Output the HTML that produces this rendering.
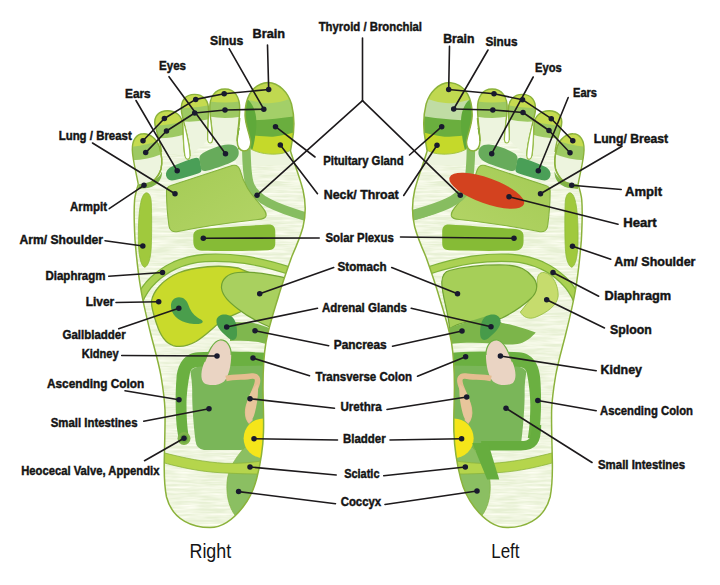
<!DOCTYPE html>
<html lang="en"><head><meta charset="utf-8"><title>Foot Reflexology Chart</title>
<style>
html,body{margin:0;padding:0;background:#fff;}
body{width:720px;height:585px;overflow:hidden;}
svg{display:block;}
.lb{font-family:"Liberation Sans",Arial,sans-serif;font-weight:bold;font-size:13.2px;fill:#141414;stroke:#141414;stroke-width:0.45px;}
.big{font-family:"Liberation Sans",Arial,sans-serif;font-weight:normal;font-size:20px;fill:#141414;}
.ln{stroke:#1d1a1c;stroke-width:1.6;fill:none;stroke-linecap:round;stroke-linejoin:round;}
.dt{fill:#191a2e;}
</style></head><body>
<svg width="720" height="585" viewBox="0 0 720 585">
<rect width="720" height="585" fill="#fff"/>

<defs>
<path id="bodypath" d="M268,82.5 C279,83 288,92 291.5,104 C294.5,116 294.5,130 292,142 L290.5,151 C293,160 299,175 303,190 C306,203 306,215 303,227 C300,238 296,247 292,256 C287,270 282,284 278,298 C274,311 269,326 266,342 C263.5,357 263,372 263,387 C263,402 264,418 263.5,432 C263,448 260.5,464 256.7,478.6 C254,489 250,498 243,507 C236,516 224,527.6 210,527.6 C200,527.6 191,525 184.7,521.4 C177,517 169.5,508.5 166.5,497 C164.5,487 164,472 164.3,459 C164.6,443 165.3,426 165,410 C164.5,398 163,388 161,376 C158.5,362 154,347 151,335 C147.5,321 143.5,305 141,290 C138.5,276 136.5,258 135,240 C134.2,225 133.8,210 134.6,200 C135.2,194 136.8,189 138.3,184.5 L138.3,170 L150,158 L175,142 L200,132 L239.5,128 C239.4,132 237.2,136 237.2,141 C237.2,147 240,151 244,151 C248.5,151 251,147 250.8,142 C249.7,134 245.6,126 245.1,116 C244.7,101 250,84 268,82.5Z"/>
<clipPath id="bodyclip"><use href="#bodypath"/></clipPath>
<g id="bodyoutline"><path fill="none" stroke="#8bb23b" stroke-width="1.5" d="M239.7,118 C239.4,126 237.2,134 237.2,141 C237.2,147 240,151 244,151 C248.5,151 251,147 250.8,142 C249.7,134 245.6,126 245.1,116 C244.7,101 250,84 268,82.5 C279,83 288,92 291.5,104 C294.5,116 294.5,130 292,142 L290.5,151 C293,160 299,175 303,190 C306,203 306,215 303,227 C300,238 296,247 292,256 C287,270 282,284 278,298 C274,311 269,326 266,342 C263.5,357 263,372 263,387 C263,402 264,418 263.5,432 C263,448 260.5,464 256.7,478.6 C254,489 250,498 243,507 C236,516 224,527.6 210,527.6 C200,527.6 191,525 184.7,521.4 C177,517 169.5,508.5 166.5,497 C164.5,487 164,472 164.3,459 C164.6,443 165.3,426 165,410 C164.5,398 163,388 161,376 C158.5,362 154,347 151,335 C147.5,321 143.5,305 141,290 C138.5,276 136.5,258 135,240 C134.2,225 133.8,210 134.6,200 C135.2,194 136.8,189 138.3,184.5"/></g>
<linearGradient id="lungg" x1="0" y1="0" x2="1" y2="1"><stop offset="0" stop-color="#a4cb55"/><stop offset="1" stop-color="#b3d466"/></linearGradient>
<filter id="tex" x="0" y="0" width="100%" height="100%" color-interpolation-filters="sRGB">
<feTurbulence type="fractalNoise" baseFrequency="0.035 0.45" numOctaves="3" seed="7" result="n"/>
<feColorMatrix in="n" type="matrix" values="0 0 0 0 1  0 0 0 0 1  0 0 0 0 0.96  0 0 0 1.7 -0.5" result="w"/>
<feComposite in="w" in2="SourceGraphic" operator="atop"/>
</filter>
</defs>

<g id="rightfoot">
<g clip-path="url(#bodyclip)"><rect x="120" y="70" width="200" height="470" fill="#e7f0d4" filter="url(#tex)"/>
</g>
<clipPath id="tc0"><path d="M212.5,140 C212.5,130 210.5,120 209.8,110 C209,97 215,89 225,89 C234.5,89 240.3,97 239.7,110 C239.5,120 237.7,130 237.2,141Z"/></clipPath>
<path d="M212.5,140 C212.5,130 210.5,120 209.8,110 C209,97 215,89 225,89 C234.5,89 240.3,97 239.7,110 C239.5,120 237.7,130 237.2,141Z" fill="#edf4de"/>
<g clip-path="url(#tc0)"><g transform="translate(225,89) rotate(0)">
<path d="M-19.0,-6 H19.0 V27.0 Q0,31.0 -19.0,27.0Z" fill="#9dc962"/>
<path d="M-19.0,-6 H19.0 V12.0 Q0,15.0 -19.0,12.0Z" fill="#c5db50"/>
</g></g>
<path d="M212.5,140 C212.5,130 210.5,120 209.8,110 C209,97 215,89 225,89 C234.5,89 240.3,97 239.7,110 C239.5,120 237.7,130 237.2,141" fill="none" stroke="#8bb23b" stroke-width="1.4"/>
<clipPath id="tc1"><path d="M190,156 C190,142 184,125 181.5,112 C180,100 186,94.4 194.5,94.4 C203,94.4 209,100 208.5,111 C208.3,121 207.3,131 207.8,140Z"/></clipPath>
<path d="M190,156 C190,142 184,125 181.5,112 C180,100 186,94.4 194.5,94.4 C203,94.4 209,100 208.5,111 C208.3,121 207.3,131 207.8,140Z" fill="#edf4de"/>
<g clip-path="url(#tc1)"><g transform="translate(194.8,94.4) rotate(-6)">
<path d="M-18.0,-6 H18.0 V25.0 Q0,29.0 -18.0,25.0Z" fill="#9dc962"/>
<path d="M-18.0,-6 H18.0 V11.5 Q0,14.5 -18.0,11.5Z" fill="#c5db50"/>
</g></g>
<path d="M190,156 C190,142 184,125 181.5,112 C180,100 186,94.4 194.5,94.4 C203,94.4 209,100 208.5,111 C208.3,121 207.3,131 207.8,140" fill="none" stroke="#8bb23b" stroke-width="1.4"/>
<clipPath id="tc2"><path d="M161.5,152 C160.5,142 156.5,132 155,125 C153.5,116 159,110.7 167.5,110.7 C176,110.7 182.5,116 182.8,125 C183.2,135 183.5,147 185,156Z"/></clipPath>
<path d="M161.5,152 C160.5,142 156.5,132 155,125 C153.5,116 159,110.7 167.5,110.7 C176,110.7 182.5,116 182.8,125 C183.2,135 183.5,147 185,156Z" fill="#edf4de"/>
<g clip-path="url(#tc2)"><g transform="translate(168.2,110.7) rotate(-9)">
<path d="M-18.0,-6 H18.0 V25.0 Q0,29.0 -18.0,25.0Z" fill="#9dc962"/>
<path d="M-18.0,-6 H18.0 V12.0 Q0,15.0 -18.0,12.0Z" fill="#c5db50"/>
</g></g>
<path d="M161.5,152 C160.5,142 156.5,132 155,125 C153.5,116 159,110.7 167.5,110.7 C176,110.7 182.5,116 182.8,125 C183.2,135 183.5,147 185,156" fill="none" stroke="#8bb23b" stroke-width="1.4"/>
<clipPath id="tc3"><path d="M138.3,184.5 C136.5,174 132.6,160 132.3,150 C132,141 136,133.7 143.5,133.7 C150,133.5 157,139 159.5,147 C161.5,154 162.8,162 161,169 C158,179 149,186.5 138.5,188Z"/></clipPath>
<path d="M138.3,184.5 C136.5,174 132.6,160 132.3,150 C132,141 136,133.7 143.5,133.7 C150,133.5 157,139 159.5,147 C161.5,154 162.8,162 161,169 C158,179 149,186.5 138.5,188Z" fill="#edf4de"/>
<g clip-path="url(#tc3)"><g transform="translate(143.7,133.7) rotate(-13)">
<path d="M-18.0,-6 H18.0 V23.0 Q0,27.0 -18.0,23.0Z" fill="#9dc962"/>
<path d="M-18.0,-6 H18.0 V9.5 Q0,12.5 -18.0,9.5Z" fill="#c5db50"/>
</g></g>
<path d="M138.3,184.5 C136.5,174 132.6,160 132.3,150 C132,141 136,133.7 143.5,133.7 C150,133.5 157,139 159.5,147 C161.5,154 162.8,162 161,169 C158,179 149,186.5 138.5,188" fill="none" stroke="#8bb23b" stroke-width="1.4"/>
<g clip-path="url(#bodyclip)">
<!-- big toe -->
<g>
<rect x="238" y="78" width="62" height="30" fill="#c0d850"/>
<path d="M238,97 C250,100.5 262,103.5 268.4,103.3 C278,103 288,100 300,95.5 L300,125 L238,125Z" fill="#a3cf68"/>
<path d="M238,121 C256,120.3 275,119.5 300,115.5 L300,140 L238,140Z" fill="#6aae3e"/>
<path d="M238,134 C255,135.5 266,137 273,136.7 C282,136 290,133.5 300,131 L300,160 L238,160Z" fill="#c5d92a"/>
<path d="M238,95 L248,99.7 C253,104 256,112 256.3,120 C256.5,128 256,132 255.3,135.3 C254.5,142 253,148 251.5,153 L238,156Z" fill="#5fa93a"/>
<path d="M236,149.5 L250,148.5 C258,153.5 270,155 280,153.7 C285,153 289,151.5 292,149 L300,149 L300,165 L236,165Z" fill="#edf4de"/>
<path d="M250,148.5 C258,153.5 270,155 280,153.7 C285,153 289,151.5 292,149" fill="none" stroke="#a4c548" stroke-width="1"/>
</g>
<!-- thyroid band -->
<path d="M246.3,146 C246.5,165 247,177 250,185 C256,199.5 275,208 310,217.8" fill="none" stroke="#87bd60" stroke-width="8.6"/>
<!-- ears -->
<path d="M172,180.5 C165,180 163.5,171 171,167 C178,163.5 188,160 195,158 Q199,157 200,161 L201.5,169 Q202,172.5 198,173.5 C190,176 180,179.5 172,180.5Z" fill="#4a9f57"/>
<!-- eyes -->
<path d="M199.5,160 Q198.5,155.5 203,153 C210,149 220,145 228,144.5 C236,144 240,149 238.5,155 C237.5,159.5 232,162.5 226,164.5 C219,167 211,170 205.5,171 Q201.5,171.5 200.8,168 Z" fill="#67ab5b"/>
<!-- lung -->
<path d="M166.5,192 Q166,187 171,185.5 L232,165.5 Q238,164 240,170 C244,185 250,193 258,202 C263,208 267,212 266,216 Q265,219 258,219.5 C235,222 200,227 178,231.5 Q170,233 169,226 C167.5,215 166.5,200 166.5,192 Z" fill="url(#lungg)" stroke="#84b23c" stroke-width="1.1"/>
<!-- solar plexus -->
<path d="M193.3,237 C193,231.5 196,229.5 202,229 C225,227.5 250,225.5 268,224.5 C273.5,224.3 275.3,227 275.3,232 L275.3,243 C275.3,248 273,250 268,250.3 C248,251 222,251 202,250.7 C196,250.5 193.5,247 193.3,242Z" fill="#86bb36"/>
<!-- arm -->
<path d="M146.5,192.8 C149.5,193 151,197 151.3,203 C151.8,215 151.8,235 151.2,248 C150.7,258 148.5,266 144.7,267.3 C141,266 139,257 138.5,245 C138,232 138.5,215 140.3,205 C141.5,198 143.5,193 146.5,192.8Z" fill="#a0c93d" stroke="#8dbb3a" stroke-width="0.8"/>
<!-- diaphragm -->
<path d="M139,301 C143,291 148,285 153.3,280 C160,273.5 168,268.5 175,265.3 C185,261 195,258.7 205,258 C218,257.3 232,258 245,259.8 C262,262.3 277,266.5 292,271.5" fill="none" stroke="#7fb23a" stroke-width="8.6"/>
<path d="M139,301 C143,291 148,285 153.3,280 C160,273.5 168,268.5 175,265.3 C185,261 195,258.7 205,258 C218,257.3 232,258 245,259.8 C262,262.3 277,266.5 292,271.5" fill="none" stroke="#abd153" stroke-width="6.2"/>

<path d="M151.5,301 C153,292 162,280 178,273 C195,266.5 220,264.5 238,268 L255,275 L262,300 L240,312 C232,316 225,318 220,322 C212,329 205,336 196,341.5 C188,346 180,347.5 173,345.5 C165,343 160,334 157,325 C154,316 151,308 151.5,301Z" fill="#c9da2b" stroke="#7fa833" stroke-width="1.3"/>
<path d="M171,307 C170.5,301 174,297.3 179,297.2 C183.5,297.2 186.5,300 188,304 C190,310 193,314.5 197.5,317.5 C200,319.2 202.5,320 202.8,321.8 C202.5,323.8 198,324.3 194,324 C188,323.5 183,322 179,319.5 C174.5,316.5 171.3,312 171,307Z" fill="#4a9e4c"/>
<path d="M221.5,288 C221,279 228,273.5 238,272.5 C253,271 270,274 290,279 L290,300 L272,328 C260,323 247,316 238,309 C229,302 222.5,296 221.5,288Z" fill="#a9d05f" stroke="#70a232" stroke-width="1.2"/>
<path d="M230,322 L250,322.5 C258,323.5 264,326 272,329 L270,345 C258,341 245,340 230,341Z" fill="#7fb74e"/>

<!-- adrenal -->
<path d="M216.5,320 C217.5,314.3 225,313 231,316 C236,319 237.5,328 237,335 C236.5,340.5 232,341 229,338.5 C224,334 215.5,327.5 216.5,320Z" fill="#479b4a"/>
<!-- colon -->
<path d="M176.2,420 C175.3,405 175.5,390 176.5,378 C177.5,365 184,353 198,352.3 C215,351.3 245,351.3 270,353 L270,367 L200,367 C194,367 191,368.5 190,373 C188,382 186.5,395 186.5,405 C186.5,418 187.5,430 189,438 L179,440 C177.5,433 176.6,427 176.2,420Z" fill="#6bb041"/>
<!-- small intestine -->
<path d="M190.5,372 C191.5,368.5 196,366.5 203,366.5 L266,365.5 L266,440 C258,446 250,450 240,450 L204,450 Q196.5,449 195.5,441 C193.5,425 192,405 192.2,392 C192.3,384 191.3,378 190.5,372Z" fill="#7ab659"/>
<!-- kidney -->
<path d="M220,340 C226.5,339.5 231.2,346 231.2,355 C231.2,365 229,376 224,381.5 C219,386 208,386 204,383 C200,379 201,370 204.5,362 C208.5,352 213,341 220,340Z" fill="#ead4c3"/>
<path d="M204.5,362 C208.5,352 213,341 220,340 C226.5,339.5 231.2,346 231.2,355" fill="none" stroke="#6fb044" stroke-width="1.2"/>
<!-- urethra -->
<path d="M226,378.5 C235,376.5 245,377.5 252,376 C257,375.5 258.5,379 257,384 C255,391 250,399 248,408 C247,414 248,419 251,422" fill="none" stroke="#e5bd90" stroke-width="5.5"/>
<path d="M257.5,384 C259,392 257,404 255,412 C253.5,418 251,423 248.5,422 C244.5,418 245.5,408 247.5,401 C249.5,394 253,388 257.5,384Z" fill="#e8c59b"/>
<!-- coccyx -->
<path d="M245,447 C238,455 230,465 227.5,478 C225.5,492 228,507 236,516.5 L262,500 L268,447Z" fill="#8bbf62" stroke="#7fb33f" stroke-width="0.7"/>
<!-- bladder -->
<circle cx="263.4" cy="438.3" r="19.8" fill="#f5e51a"/>
<!-- sciatic -->
<path d="M160,451.8 C185,458.3 205,462.3 225,463.3 C240,463.8 252,462.5 266,460.3 L266,474 C250,474.2 235,473.5 222,472.8 C200,471.8 180,467.3 160,461.8Z" fill="#b5d54c" stroke="#8cb43c" stroke-width="0.8"/>

<circle cx="184" cy="438.5" r="6.5" fill="#7fb44a"/>
<circle cx="184" cy="438.5" r="4" fill="#6aa83e"/>

</g>
<use href="#bodyoutline"/>
<path d="M208.4,120 C208.2,128 207.5,134 207.8,140 C208.2,144 212.2,144 212.5,140 C212.5,134 211.6,128 210.7,120Z" fill="#fff"/>
<path d="M208.4,120 C208.2,128 207.5,134 207.8,140 C208.2,144 212.2,144 212.5,140 C212.5,134 211.6,128 210.7,120" fill="none" stroke="#97bd48" stroke-width="1.1"/>
<path d="M183.1,126 C183.3,138 183.6,148 185,156 C186,160.5 189.7,160.5 190,156 C190,147 187.5,137 184.8,126Z" fill="#fff"/>
<path d="M183.1,126 C183.3,138 183.6,148 185,156 C186,160.5 189.7,160.5 190,156 C190,147 187.5,137 184.8,126" fill="none" stroke="#97bd48" stroke-width="1.1"/>
<path d="M138.3,184.3 C143,183.8 149,182.5 154,180 C158,178 160.5,175.5 162,171.5 C162.3,177 160,181.5 155,185 C150,188.3 144,189 138.5,188.3Z" fill="#7fb347"/>
<path d="M159.5,147 C161.5,154 162.8,162 161,169 C158,179 149,186.5 138.5,188" fill="none" stroke="#8bb23b" stroke-width="1.3"/>

</g>
<g id="leftfoot" transform="translate(717.4,0) scale(-1,1) translate(263.5,0) scale(0.992,1) translate(-263.5,0)">
<g clip-path="url(#bodyclip)"><rect x="120" y="70" width="200" height="470" fill="#e7f0d4" filter="url(#tex)"/>
</g>
<clipPath id="ltc0"><path d="M212.5,140 C212.5,130 210.5,120 209.8,110 C209,97 215,89 225,89 C234.5,89 240.3,97 239.7,110 C239.5,120 237.7,130 237.2,141Z"/></clipPath>
<path d="M212.5,140 C212.5,130 210.5,120 209.8,110 C209,97 215,89 225,89 C234.5,89 240.3,97 239.7,110 C239.5,120 237.7,130 237.2,141Z" fill="#edf4de"/>
<g clip-path="url(#ltc0)"><g transform="translate(225,89) rotate(0)">
<path d="M-19.0,-6 H19.0 V27.0 Q0,31.0 -19.0,27.0Z" fill="#9dc962"/>
<path d="M-19.0,-6 H19.0 V12.0 Q0,15.0 -19.0,12.0Z" fill="#c5db50"/>
</g></g>
<path d="M212.5,140 C212.5,130 210.5,120 209.8,110 C209,97 215,89 225,89 C234.5,89 240.3,97 239.7,110 C239.5,120 237.7,130 237.2,141" fill="none" stroke="#8bb23b" stroke-width="1.4"/>
<clipPath id="ltc1"><path d="M190,156 C190,142 184,125 181.5,112 C180,100 186,94.4 194.5,94.4 C203,94.4 209,100 208.5,111 C208.3,121 207.3,131 207.8,140Z"/></clipPath>
<path d="M190,156 C190,142 184,125 181.5,112 C180,100 186,94.4 194.5,94.4 C203,94.4 209,100 208.5,111 C208.3,121 207.3,131 207.8,140Z" fill="#edf4de"/>
<g clip-path="url(#ltc1)"><g transform="translate(194.8,94.4) rotate(-6)">
<path d="M-18.0,-6 H18.0 V25.0 Q0,29.0 -18.0,25.0Z" fill="#9dc962"/>
<path d="M-18.0,-6 H18.0 V11.5 Q0,14.5 -18.0,11.5Z" fill="#c5db50"/>
</g></g>
<path d="M190,156 C190,142 184,125 181.5,112 C180,100 186,94.4 194.5,94.4 C203,94.4 209,100 208.5,111 C208.3,121 207.3,131 207.8,140" fill="none" stroke="#8bb23b" stroke-width="1.4"/>
<clipPath id="ltc2"><path d="M161.5,152 C160.5,142 156.5,132 155,125 C153.5,116 159,110.7 167.5,110.7 C176,110.7 182.5,116 182.8,125 C183.2,135 183.5,147 185,156Z"/></clipPath>
<path d="M161.5,152 C160.5,142 156.5,132 155,125 C153.5,116 159,110.7 167.5,110.7 C176,110.7 182.5,116 182.8,125 C183.2,135 183.5,147 185,156Z" fill="#edf4de"/>
<g clip-path="url(#ltc2)"><g transform="translate(168.2,110.7) rotate(-9)">
<path d="M-18.0,-6 H18.0 V25.0 Q0,29.0 -18.0,25.0Z" fill="#9dc962"/>
<path d="M-18.0,-6 H18.0 V12.0 Q0,15.0 -18.0,12.0Z" fill="#c5db50"/>
</g></g>
<path d="M161.5,152 C160.5,142 156.5,132 155,125 C153.5,116 159,110.7 167.5,110.7 C176,110.7 182.5,116 182.8,125 C183.2,135 183.5,147 185,156" fill="none" stroke="#8bb23b" stroke-width="1.4"/>
<clipPath id="ltc3"><path d="M138.3,184.5 C136.5,174 132.6,160 132.3,150 C132,141 136,133.7 143.5,133.7 C150,133.5 157,139 159.5,147 C161.5,154 162.8,162 161,169 C158,179 149,186.5 138.5,188Z"/></clipPath>
<path d="M138.3,184.5 C136.5,174 132.6,160 132.3,150 C132,141 136,133.7 143.5,133.7 C150,133.5 157,139 159.5,147 C161.5,154 162.8,162 161,169 C158,179 149,186.5 138.5,188Z" fill="#edf4de"/>
<g clip-path="url(#ltc3)"><g transform="translate(143.7,133.7) rotate(-13)">
<path d="M-18.0,-6 H18.0 V23.0 Q0,27.0 -18.0,23.0Z" fill="#9dc962"/>
<path d="M-18.0,-6 H18.0 V9.5 Q0,12.5 -18.0,9.5Z" fill="#c5db50"/>
</g></g>
<path d="M138.3,184.5 C136.5,174 132.6,160 132.3,150 C132,141 136,133.7 143.5,133.7 C150,133.5 157,139 159.5,147 C161.5,154 162.8,162 161,169 C158,179 149,186.5 138.5,188" fill="none" stroke="#8bb23b" stroke-width="1.4"/>
<g clip-path="url(#bodyclip)">
<!-- big toe -->
<g>
<rect x="238" y="78" width="62" height="30" fill="#c0d850"/>
<path d="M238,97 C250,100.5 262,103.5 268.4,103.3 C278,103 288,100 300,95.5 L300,125 L238,125Z" fill="#c0dca4"/>
<path d="M238,121 C256,120.3 275,119.5 300,115.5 L300,140 L238,140Z" fill="#6aae3e"/>
<path d="M238,134 C255,135.5 266,137 273,136.7 C282,136 290,133.5 300,131 L300,160 L238,160Z" fill="#c5d92a"/>
<path d="M238,95 L248,99.7 C253,104 256,112 256.3,120 C256.5,128 256,132 255.3,135.3 C254.5,142 253,148 251.5,153 L238,156Z" fill="#5fa93a"/>
<path d="M236,149.5 L250,148.5 C258,153.5 270,155 280,153.7 C285,153 289,151.5 292,149 L300,149 L300,165 L236,165Z" fill="#edf4de"/>
<path d="M250,148.5 C258,153.5 270,155 280,153.7 C285,153 289,151.5 292,149" fill="none" stroke="#a4c548" stroke-width="1"/>
</g>
<!-- thyroid band -->
<path d="M246.3,146 C246.5,165 247,177 250,185 C256,199.5 275,208 310,217.8" fill="none" stroke="#87bd60" stroke-width="8.6"/>
<!-- ears -->
<path d="M172,180.5 C165,180 163.5,171 171,167 C178,163.5 188,160 195,158 Q199,157 200,161 L201.5,169 Q202,172.5 198,173.5 C190,176 180,179.5 172,180.5Z" fill="#4a9f57"/>
<!-- eyes -->
<path d="M199.5,160 Q198.5,155.5 203,153 C210,149 220,145 228,144.5 C236,144 240,149 238.5,155 C237.5,159.5 232,162.5 226,164.5 C219,167 211,170 205.5,171 Q201.5,171.5 200.8,168 Z" fill="#67ab5b"/>
<!-- lung -->
<path d="M166.5,192 Q166,187 171,185.5 L232,165.5 Q238,164 240,170 C244,185 250,193 258,202 C263,208 267,212 266,216 Q265,219 258,219.5 C235,222 200,227 178,231.5 Q170,233 169,226 C167.5,215 166.5,200 166.5,192 Z" fill="url(#lungg)" stroke="#84b23c" stroke-width="1.1"/>
<!-- solar plexus -->
<path d="M193.3,237 C193,231.5 196,229.5 202,229 C225,227.5 250,225.5 268,224.5 C273.5,224.3 275.3,227 275.3,232 L275.3,243 C275.3,248 273,250 268,250.3 C248,251 222,251 202,250.7 C196,250.5 193.5,247 193.3,242Z" fill="#86bb36"/>
<!-- arm -->
<path d="M146.5,192.8 C149.5,193 151,197 151.3,203 C151.8,215 151.8,235 151.2,248 C150.7,258 148.5,266 144.7,267.3 C141,266 139,257 138.5,245 C138,232 138.5,215 140.3,205 C141.5,198 143.5,193 146.5,192.8Z" fill="#a0c93d" stroke="#8dbb3a" stroke-width="0.8"/>
<!-- diaphragm -->
<path d="M139,301 C143,291 148,285 153.3,280 C160,273.5 168,268.5 175,265.3 C185,261 195,258.7 205,258 C218,257.3 232,258 245,259.8 C262,262.3 277,266.5 292,271.5" fill="none" stroke="#7fb23a" stroke-width="8.6"/>
<path d="M139,301 C143,291 148,285 153.3,280 C160,273.5 168,268.5 175,265.3 C185,261 195,258.7 205,258 C218,257.3 232,258 245,259.8 C262,262.3 277,266.5 292,271.5" fill="none" stroke="#abd153" stroke-width="6.2"/>

<!-- thyroidL --><path d="M251.5,188 C257,200 275,207.5 310,216.5" fill="none" stroke="#87bd60" stroke-width="10.5"/>
<path d="M172.4,272.5 C177,272 180,275 179.5,283 C180,292 187,300 196.5,312 C194,317 188,319.5 182,317.5 C170,313 159,305 158.4,296 C158,287 163,274 172.4,272.5Z" fill="#c6dc6d" stroke="#9abf45" stroke-width="0.9"/>
<path d="M275.7,282 Q275,272 268,270.5 C255,267 235,264.5 211,265 C197,265.5 190,270 184,277 C178,284 179,292 186,298.5 C194,306 205,313 215,318 C225,322 240,320.5 250,322 C258,323.5 264,326 268,329 C268,315 276,295 275.7,282Z" fill="#a6cf58" stroke="#70a232" stroke-width="1.2"/>
<path d="M272,329.5 L264.4,326.5 L232,316.5 L222,318 L215,323 C208,324 200,326 181,332.5 C185,337 190,341.5 197,343.5 C205,345.5 215,344 224,343.5 C240,342.5 255,342.5 268,344Z" fill="#7cb54a"/>

<!-- adrenal -->
<path d="M216.5,320 C217.5,314.3 225,313 231,316 C236,319 237.5,328 237,335 C236.5,340.5 232,341 229,338.5 C224,334 215.5,327.5 216.5,320Z" fill="#479b4a"/>
<!-- colon -->
<path d="M176.2,420 C175.3,405 175.5,390 176.5,378 C177.5,365 184,353 198,352.3 C215,351.3 245,351.3 270,353 L270,367 L200,367 C194,367 191,368.5 190,373 C188,382 186.5,395 186.5,405 C186.5,418 187.5,430 189,438 L179,440 C177.5,433 176.6,427 176.2,420Z" fill="#6bb041"/>
<!-- small intestine -->
<path d="M190.5,372 C191.5,368.5 196,366.5 203,366.5 L266,365.5 L266,440 C258,446 250,450 240,450 L204,450 Q196.5,449 195.5,441 C193.5,425 192,405 192.2,392 C192.3,384 191.3,378 190.5,372Z" fill="#7ab659"/>
<!-- kidney -->
<path d="M220,340 C226.5,339.5 231.2,346 231.2,355 C231.2,365 229,376 224,381.5 C219,386 208,386 204,383 C200,379 201,370 204.5,362 C208.5,352 213,341 220,340Z" fill="#ead4c3"/>
<path d="M204.5,362 C208.5,352 213,341 220,340 C226.5,339.5 231.2,346 231.2,355" fill="none" stroke="#6fb044" stroke-width="1.2"/>
<!-- urethra -->
<path d="M226,378.5 C235,376.5 245,377.5 252,376 C257,375.5 258.5,379 257,384 C255,391 250,399 248,408 C247,414 248,419 251,422" fill="none" stroke="#e5bd90" stroke-width="5.5"/>
<path d="M257.5,384 C259,392 257,404 255,412 C253.5,418 251,423 248.5,422 C244.5,418 245.5,408 247.5,401 C249.5,394 253,388 257.5,384Z" fill="#e8c59b"/>
<!-- coccyx -->
<path d="M245,447 C238,455 230,465 227.5,478 C225.5,492 228,507 236,516.5 L262,500 L268,447Z" fill="#8bbf62" stroke="#7fb33f" stroke-width="0.7"/>
<!-- bladder -->
<circle cx="263.4" cy="438.3" r="19.8" fill="#f5e51a"/>
<!-- sciatic -->
<path d="M160,451.8 C185,458.3 205,462.3 225,463.3 C240,463.8 252,462.5 266,460.3 L266,474 C250,474.2 235,473.5 222,472.8 C200,471.8 180,467.3 160,461.8Z" fill="#b5d54c" stroke="#8cb43c" stroke-width="0.8"/>

<ellipse cx="230.4" cy="190.8" rx="39.8" ry="12.8" transform="rotate(-19.6 230.4 190.8)" fill="#d3421f"/>
<path d="M180.2,425 C180.2,441 184,445.8 196,445.8 L236,445.8" fill="none" stroke="#66ad3e" stroke-width="9.5"/>
<path d="M245,443 L229,443 L217.8,479.5 L230,479.5Z" fill="#66ad3e"/>

</g>
<use href="#bodyoutline"/>
<path d="M208.4,120 C208.2,128 207.5,134 207.8,140 C208.2,144 212.2,144 212.5,140 C212.5,134 211.6,128 210.7,120Z" fill="#fff"/>
<path d="M208.4,120 C208.2,128 207.5,134 207.8,140 C208.2,144 212.2,144 212.5,140 C212.5,134 211.6,128 210.7,120" fill="none" stroke="#97bd48" stroke-width="1.1"/>
<path d="M183.1,126 C183.3,138 183.6,148 185,156 C186,160.5 189.7,160.5 190,156 C190,147 187.5,137 184.8,126Z" fill="#fff"/>
<path d="M183.1,126 C183.3,138 183.6,148 185,156 C186,160.5 189.7,160.5 190,156 C190,147 187.5,137 184.8,126" fill="none" stroke="#97bd48" stroke-width="1.1"/>
<path d="M138.3,184.3 C143,183.8 149,182.5 154,180 C158,178 160.5,175.5 162,171.5 C162.3,177 160,181.5 155,185 C150,188.3 144,189 138.5,188.3Z" fill="#7fb347"/>
<path d="M159.5,147 C161.5,154 162.8,162 161,169 C158,179 149,186.5 138.5,188" fill="none" stroke="#8bb23b" stroke-width="1.3"/>

</g>
<g class="ln">
<line x1="136" y1="100.5" x2="177.2" y2="170.8"/>
<line x1="92.5" y1="143" x2="175" y2="193.7"/>
<line x1="169" y1="76.7" x2="225.5" y2="153.7"/>
<line x1="267.5" y1="45" x2="268.7" y2="89.5"/>
<line x1="229.2" y1="48.7" x2="263.8" y2="109.2"/>
<line x1="315" y1="157" x2="275.5" y2="126.7"/>
<line x1="317.5" y1="193.7" x2="280.3" y2="145"/>
<line x1="109.2" y1="208.7" x2="144" y2="185.3"/>
<line x1="105" y1="240.7" x2="142.8" y2="246"/>
<line x1="108.7" y1="276.2" x2="162.5" y2="272.5"/>
<line x1="116" y1="302.5" x2="158.7" y2="301.7"/>
<line x1="118.7" y1="328.7" x2="178.8" y2="308.3"/>
<line x1="121.7" y1="355.5" x2="217" y2="356"/>
<line x1="125" y1="390.7" x2="179" y2="399.7"/>
<line x1="143.7" y1="421.2" x2="209" y2="408.7"/>
<line x1="144.5" y1="460.7" x2="184" y2="438.3"/>
<line x1="319.2" y1="238" x2="203.3" y2="238.3"/>
<line x1="333.7" y1="267.5" x2="259.7" y2="293.7"/>
<line x1="317.5" y1="308.2" x2="226.7" y2="327"/>
<line x1="328.7" y1="345.7" x2="255" y2="330.8"/>
<line x1="309.5" y1="375.7" x2="253" y2="358"/>
<line x1="334.5" y1="408.2" x2="250" y2="398.7"/>
<line x1="337.5" y1="440" x2="254" y2="438.7"/>
<line x1="336.2" y1="475" x2="250" y2="467"/>
<line x1="335.5" y1="503.7" x2="238.6" y2="491.6"/>
<line x1="449.5" y1="46.2" x2="448.7" y2="89.5"/>
<line x1="488" y1="50" x2="453.7" y2="109"/>
<line x1="533.2" y1="77" x2="491.7" y2="153.7"/>
<line x1="568.2" y1="97.5" x2="538.3" y2="170.8"/>
<line x1="622" y1="146.2" x2="540.5" y2="193.7"/>
<line x1="409.5" y1="155" x2="441.7" y2="126.7"/>
<line x1="403.7" y1="195.5" x2="437" y2="145.3"/>
<line x1="621.2" y1="189.5" x2="571.7" y2="185.3"/>
<line x1="618" y1="224.2" x2="509" y2="196.7"/>
<line x1="610.7" y1="259.2" x2="572.5" y2="246.2"/>
<line x1="598.7" y1="296.2" x2="553" y2="272.5"/>
<line x1="604.5" y1="328" x2="546.7" y2="299.7"/>
<line x1="596.2" y1="370.7" x2="500.4" y2="356"/>
<line x1="596.2" y1="410.7" x2="537.8" y2="400.5"/>
<line x1="592" y1="462.5" x2="506" y2="408.3"/>
<line x1="400.5" y1="237" x2="514" y2="238.3"/>
<line x1="391.7" y1="267.5" x2="457.5" y2="293.7"/>
<line x1="411.2" y1="308.2" x2="491" y2="326.8"/>
<line x1="392.5" y1="346.2" x2="462" y2="331"/>
<line x1="417.5" y1="376.2" x2="465.6" y2="356.8"/>
<line x1="387" y1="409.5" x2="466.7" y2="397"/>
<line x1="390" y1="440" x2="461.6" y2="438.8"/>
<line x1="383.7" y1="475.7" x2="465.3" y2="467"/>
<line x1="385" y1="504.5" x2="477" y2="491"/>
<line x1="362.5" y1="100.7" x2="257" y2="195.3"/>
<line x1="362.5" y1="100.7" x2="460.3" y2="195.3"/>
<line x1="362.5" y1="38" x2="362.5" y2="100.7"/>
<polyline points="268.7,89.5 224.2,93.8 195.7,99.4 164.4,118.5 143,140.7"/>
<polyline points="263.8,109.2 225,110 194.7,113 166.5,131 145.7,152.6"/>
<polyline points="448.7,89.5 494,93.8 522.5,99.7 551.3,118.7 572.8,140.8"/>
<polyline points="453.7,109 492.8,110 523,112.5 549,130.5 570,152.8"/>
</g>
<g class="dt">
<circle cx="142.8" cy="246" r="2.75"/>
<circle cx="143" cy="140.7" r="2.75"/>
<circle cx="144" cy="185.3" r="2.75"/>
<circle cx="145.7" cy="152.6" r="2.75"/>
<circle cx="158.7" cy="301.7" r="2.75"/>
<circle cx="162.5" cy="272.5" r="2.75"/>
<circle cx="164.4" cy="118.5" r="2.75"/>
<circle cx="166.5" cy="131" r="2.75"/>
<circle cx="175" cy="193.7" r="2.75"/>
<circle cx="177.2" cy="170.8" r="2.75"/>
<circle cx="178.8" cy="308.3" r="2.75"/>
<circle cx="179" cy="399.7" r="2.75"/>
<circle cx="184" cy="438.3" r="2.75"/>
<circle cx="194.7" cy="113" r="2.75"/>
<circle cx="195.7" cy="99.4" r="2.75"/>
<circle cx="203.3" cy="238.3" r="2.75"/>
<circle cx="209" cy="408.7" r="2.75"/>
<circle cx="217" cy="356" r="2.75"/>
<circle cx="224.2" cy="93.8" r="2.75"/>
<circle cx="225" cy="110" r="2.75"/>
<circle cx="225.5" cy="153.7" r="2.75"/>
<circle cx="226.7" cy="327" r="2.75"/>
<circle cx="238.6" cy="491.6" r="2.75"/>
<circle cx="250" cy="398.7" r="2.75"/>
<circle cx="250" cy="467" r="2.75"/>
<circle cx="253" cy="358" r="2.75"/>
<circle cx="254" cy="438.7" r="2.75"/>
<circle cx="255" cy="330.8" r="2.75"/>
<circle cx="257" cy="195.3" r="2.75"/>
<circle cx="259.7" cy="293.7" r="2.75"/>
<circle cx="263.8" cy="109.2" r="2.75"/>
<circle cx="268.7" cy="89.5" r="2.75"/>
<circle cx="275.5" cy="126.7" r="2.75"/>
<circle cx="280.3" cy="145" r="2.75"/>
<circle cx="437" cy="145.3" r="2.75"/>
<circle cx="441.7" cy="126.7" r="2.75"/>
<circle cx="448.7" cy="89.5" r="2.75"/>
<circle cx="453.7" cy="109" r="2.75"/>
<circle cx="457.5" cy="293.7" r="2.75"/>
<circle cx="460.3" cy="195.3" r="2.75"/>
<circle cx="461.6" cy="438.8" r="2.75"/>
<circle cx="462" cy="331" r="2.75"/>
<circle cx="465.3" cy="467" r="2.75"/>
<circle cx="465.6" cy="356.8" r="2.75"/>
<circle cx="466.7" cy="397" r="2.75"/>
<circle cx="477" cy="491" r="2.75"/>
<circle cx="491" cy="326.8" r="2.75"/>
<circle cx="491.7" cy="153.7" r="2.75"/>
<circle cx="492.8" cy="110" r="2.75"/>
<circle cx="494" cy="93.8" r="2.75"/>
<circle cx="500.4" cy="356" r="2.75"/>
<circle cx="506" cy="408.3" r="2.75"/>
<circle cx="509" cy="196.7" r="2.75"/>
<circle cx="514" cy="238.3" r="2.75"/>
<circle cx="522.5" cy="99.7" r="2.75"/>
<circle cx="523" cy="112.5" r="2.75"/>
<circle cx="537.8" cy="400.5" r="2.75"/>
<circle cx="538.3" cy="170.8" r="2.75"/>
<circle cx="540.5" cy="193.7" r="2.75"/>
<circle cx="546.7" cy="299.7" r="2.75"/>
<circle cx="549" cy="130.5" r="2.75"/>
<circle cx="551.3" cy="118.7" r="2.75"/>
<circle cx="553" cy="272.5" r="2.75"/>
<circle cx="570" cy="152.8" r="2.75"/>
<circle cx="571.7" cy="185.3" r="2.75"/>
<circle cx="572.5" cy="246.2" r="2.75"/>
<circle cx="572.8" cy="140.8" r="2.75"/>
</g>
<g class="lb">
<text x="125" y="97.5" textLength="25.7" lengthAdjust="spacingAndGlyphs">Ears</text>
<text x="58.7" y="140" textLength="73.0" lengthAdjust="spacingAndGlyphs">Lung / Breast</text>
<text x="159" y="70" textLength="27" lengthAdjust="spacingAndGlyphs">Eyes</text>
<text x="210" y="44.5" textLength="33.2" lengthAdjust="spacingAndGlyphs">Sinus</text>
<text x="252.5" y="38.2" textLength="32.5" lengthAdjust="spacingAndGlyphs">Brain</text>
<text x="318.7" y="30.5" textLength="103.3" lengthAdjust="spacingAndGlyphs">Thyroid / Bronchial</text>
<text x="443.2" y="42.5" textLength="31.3" lengthAdjust="spacingAndGlyphs">Brain</text>
<text x="485.5" y="45.7" textLength="32.0" lengthAdjust="spacingAndGlyphs">Sinus</text>
<text x="535" y="71.7" textLength="26.7" lengthAdjust="spacingAndGlyphs">Eyos</text>
<text x="573" y="97" textLength="24" lengthAdjust="spacingAndGlyphs">Ears</text>
<text x="593.7" y="142.5" textLength="74.5" lengthAdjust="spacingAndGlyphs">Lung/ Breast</text>
<text x="70" y="211.2" textLength="37" lengthAdjust="spacingAndGlyphs">Armpit</text>
<text x="19.5" y="244.2" textLength="83.5" lengthAdjust="spacingAndGlyphs">Arm/ Shoulder</text>
<text x="45.5" y="279.5" textLength="60.0" lengthAdjust="spacingAndGlyphs">Diaphragm</text>
<text x="85.7" y="306.2" textLength="28.5" lengthAdjust="spacingAndGlyphs">Liver</text>
<text x="62.5" y="338.7" textLength="63.2" lengthAdjust="spacingAndGlyphs">Gallbladder</text>
<text x="81.7" y="358" textLength="37.0" lengthAdjust="spacingAndGlyphs">Kidney</text>
<text x="47" y="387.5" textLength="97.2" lengthAdjust="spacingAndGlyphs">Ascending Colon</text>
<text x="50.7" y="427" textLength="86.8" lengthAdjust="spacingAndGlyphs">Small Intestines</text>
<text x="21.2" y="474.5" textLength="138.3" lengthAdjust="spacingAndGlyphs">Heocecal Valve, Appendix</text>
<text x="323.2" y="164.5" textLength="80.5" lengthAdjust="spacingAndGlyphs">Pituitary Gland</text>
<text x="323.7" y="199.2" textLength="75.0" lengthAdjust="spacingAndGlyphs">Neck/ Throat</text>
<text x="325.5" y="241.7" textLength="68.2" lengthAdjust="spacingAndGlyphs">Solar Plexus</text>
<text x="337.5" y="270.5" textLength="49.2" lengthAdjust="spacingAndGlyphs">Stomach</text>
<text x="322" y="312" textLength="85" lengthAdjust="spacingAndGlyphs">Adrenal Glands</text>
<text x="333.7" y="349.2" textLength="53.0" lengthAdjust="spacingAndGlyphs">Pancreas</text>
<text x="315.5" y="380.7" textLength="96.5" lengthAdjust="spacingAndGlyphs">Transverse Colon</text>
<text x="340.5" y="411.2" textLength="41.2" lengthAdjust="spacingAndGlyphs">Urethra</text>
<text x="343" y="442.5" textLength="42.7" lengthAdjust="spacingAndGlyphs">Bladder</text>
<text x="344.2" y="477.5" textLength="35.3" lengthAdjust="spacingAndGlyphs">Sciatic</text>
<text x="340.7" y="506.2" textLength="40.5" lengthAdjust="spacingAndGlyphs">Coccyx</text>
<text x="625" y="196.2" textLength="37" lengthAdjust="spacingAndGlyphs">Ampit</text>
<text x="623.2" y="227" textLength="33.5" lengthAdjust="spacingAndGlyphs">Heart</text>
<text x="614.2" y="266.2" textLength="81.3" lengthAdjust="spacingAndGlyphs">Am/ Shoulder</text>
<text x="604.5" y="300" textLength="66.7" lengthAdjust="spacingAndGlyphs">Diaphragm</text>
<text x="610" y="333.7" textLength="41.7" lengthAdjust="spacingAndGlyphs">Sploon</text>
<text x="600.5" y="373.7" textLength="41.5" lengthAdjust="spacingAndGlyphs">Kidney</text>
<text x="600" y="415" textLength="93" lengthAdjust="spacingAndGlyphs">Ascending Colon</text>
<text x="598" y="468.7" textLength="87" lengthAdjust="spacingAndGlyphs">Small Intestines</text>
</g>
<text class="big" x="189.5" y="558.2" textLength="41.7" lengthAdjust="spacingAndGlyphs">Right</text>
<text class="big" x="491.2" y="558.2" textLength="28.3" lengthAdjust="spacingAndGlyphs">Left</text>
</svg></body></html>
